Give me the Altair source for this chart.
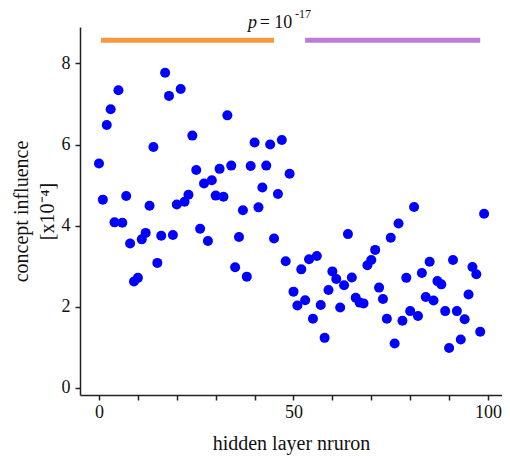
import altair as alt
import pandas as pd

neuron = list(range(100))
influence = [
    5.53, 4.64, 6.48, 6.87, 4.08, 7.34, 4.07, 4.73, 3.56, 2.62,
    2.71, 3.66, 3.82, 4.49, 5.94, 3.08, 3.75, 7.77, 7.20, 3.77,
    4.52, 7.37, 4.59, 4.76, 6.22, 5.37, 3.92, 5.04, 3.62, 5.12,
    4.74, 5.40, 4.71, 6.72, 5.48, 2.97, 3.72, 4.38, 2.74, 5.47,
    6.05, 4.45, 4.94, 5.48, 6.00, 3.68, 4.78, 6.11, 3.12, 5.28,
    2.37, 2.03, 2.92, 2.16, 3.17, 1.70, 3.25, 2.04, 1.23, 2.41,
    2.87, 2.68, 1.98, 2.53, 3.79, 2.72, 2.22, 2.10, 2.08, 3.02,
    3.15, 3.40, 2.47, 2.19, 1.70, 3.70, 1.09, 4.05, 1.65, 2.71,
    1.89, 4.46, 1.77, 2.83, 2.24, 3.11, 2.15, 2.63, 2.55, 1.89,
    0.98, 3.15, 1.89, 1.19, 1.69, 2.30, 2.98, 2.80, 1.38, 4.29,
]

bar_start = [0.5, 53.0]
bar_end = [45.0, 98.0]
bar_level = [8.57, 8.57]
bar_color = ["#F39A3C", "#BB7BDC"]

ann_text = ["p", "= 10", "-17"]
ann_x = [40.6, 41.3, 50.4]
ann_y = [8.88, 8.88, 9.12]

x_ticks = list(range(0, 101, 10))
y_ticks = [0, 2, 4, 6, 8]

FONT = "Liberation Serif"

df = pd.DataFrame({"neuron": neuron, "influence": influence})
bars = pd.DataFrame({"x": bar_start, "x2": bar_end, "y": bar_level, "c": bar_color})
ann = pd.DataFrame({"t": ann_text, "x": ann_x, "y": ann_y})

xscale = alt.Scale(domain=[-4.88, 103.6], nice=False, zero=False)
yscale = alt.Scale(domain=[-0.18, 8.9], nice=False, zero=False)

points = alt.Chart(df).mark_circle(size=100, color="#0000FF", opacity=1).encode(
    x=alt.X(
        "neuron:Q",
        scale=xscale,
        axis=alt.Axis(
            values=x_ticks,
            labelExpr="datum.value % 50 == 0 ? datum.label : ''",
            title="hidden layer nruron",
            grid=False,
            labelFont=FONT,
            titleFont=FONT,
            labelPadding=3,
            titlePadding=12,
        ),
    ),
    y=alt.Y(
        "influence:Q",
        scale=yscale,
        axis=alt.Axis(
            values=y_ticks,
            title=["concept influence", "[x10⁻⁴]"],
            grid=False,
            labelFont=FONT,
            titleFont=FONT,
            labelPadding=5,
            titlePadding=4,
            titleLineHeight=26,
        ),
    ),
)

rules = alt.Chart(bars).mark_rule(strokeWidth=5).encode(
    x="x:Q", x2="x2:Q", y="y:Q", color=alt.Color("c:N", scale=None)
)

p_txt = alt.Chart(ann.iloc[[0]]).mark_text(
    font=FONT, fontSize=18, fontStyle="italic", align="right", baseline="alphabetic", color="#111"
).encode(x="x:Q", y="y:Q", text="t:N")

eq_txt = alt.Chart(ann.iloc[[1]]).mark_text(
    font=FONT, fontSize=18, align="left", baseline="alphabetic", color="#111"
).encode(x="x:Q", y="y:Q", text="t:N")

sup_txt = alt.Chart(ann.iloc[[2]]).mark_text(
    font=FONT, fontSize=12, align="left", baseline="alphabetic", color="#111"
).encode(x="x:Q", y="y:Q", text="t:N")

chart = (
    alt.layer(rules, points, p_txt, eq_txt, sup_txt)
    .properties(
        width=422,
        height=368,
        autosize=alt.AutoSizeParams(type="none"),
        padding={"left": 72, "top": 19, "right": 0, "bottom": 60},
    )
    .configure_view(stroke=None)
    .configure_axis(
        labelFont=FONT,
        titleFont=FONT,
        labelFontSize=18,
        titleFontSize=20,
        titleFontWeight="normal",
        labelColor="#111",
        titleColor="#111",
        domainColor="#222",
        domainWidth=1.5,
        tickColor="#222",
        tickWidth=1.5,
        tickSize=5,
    )
)

chart.save("out.html", embed_options={"renderer": "svg", "actions": False})
